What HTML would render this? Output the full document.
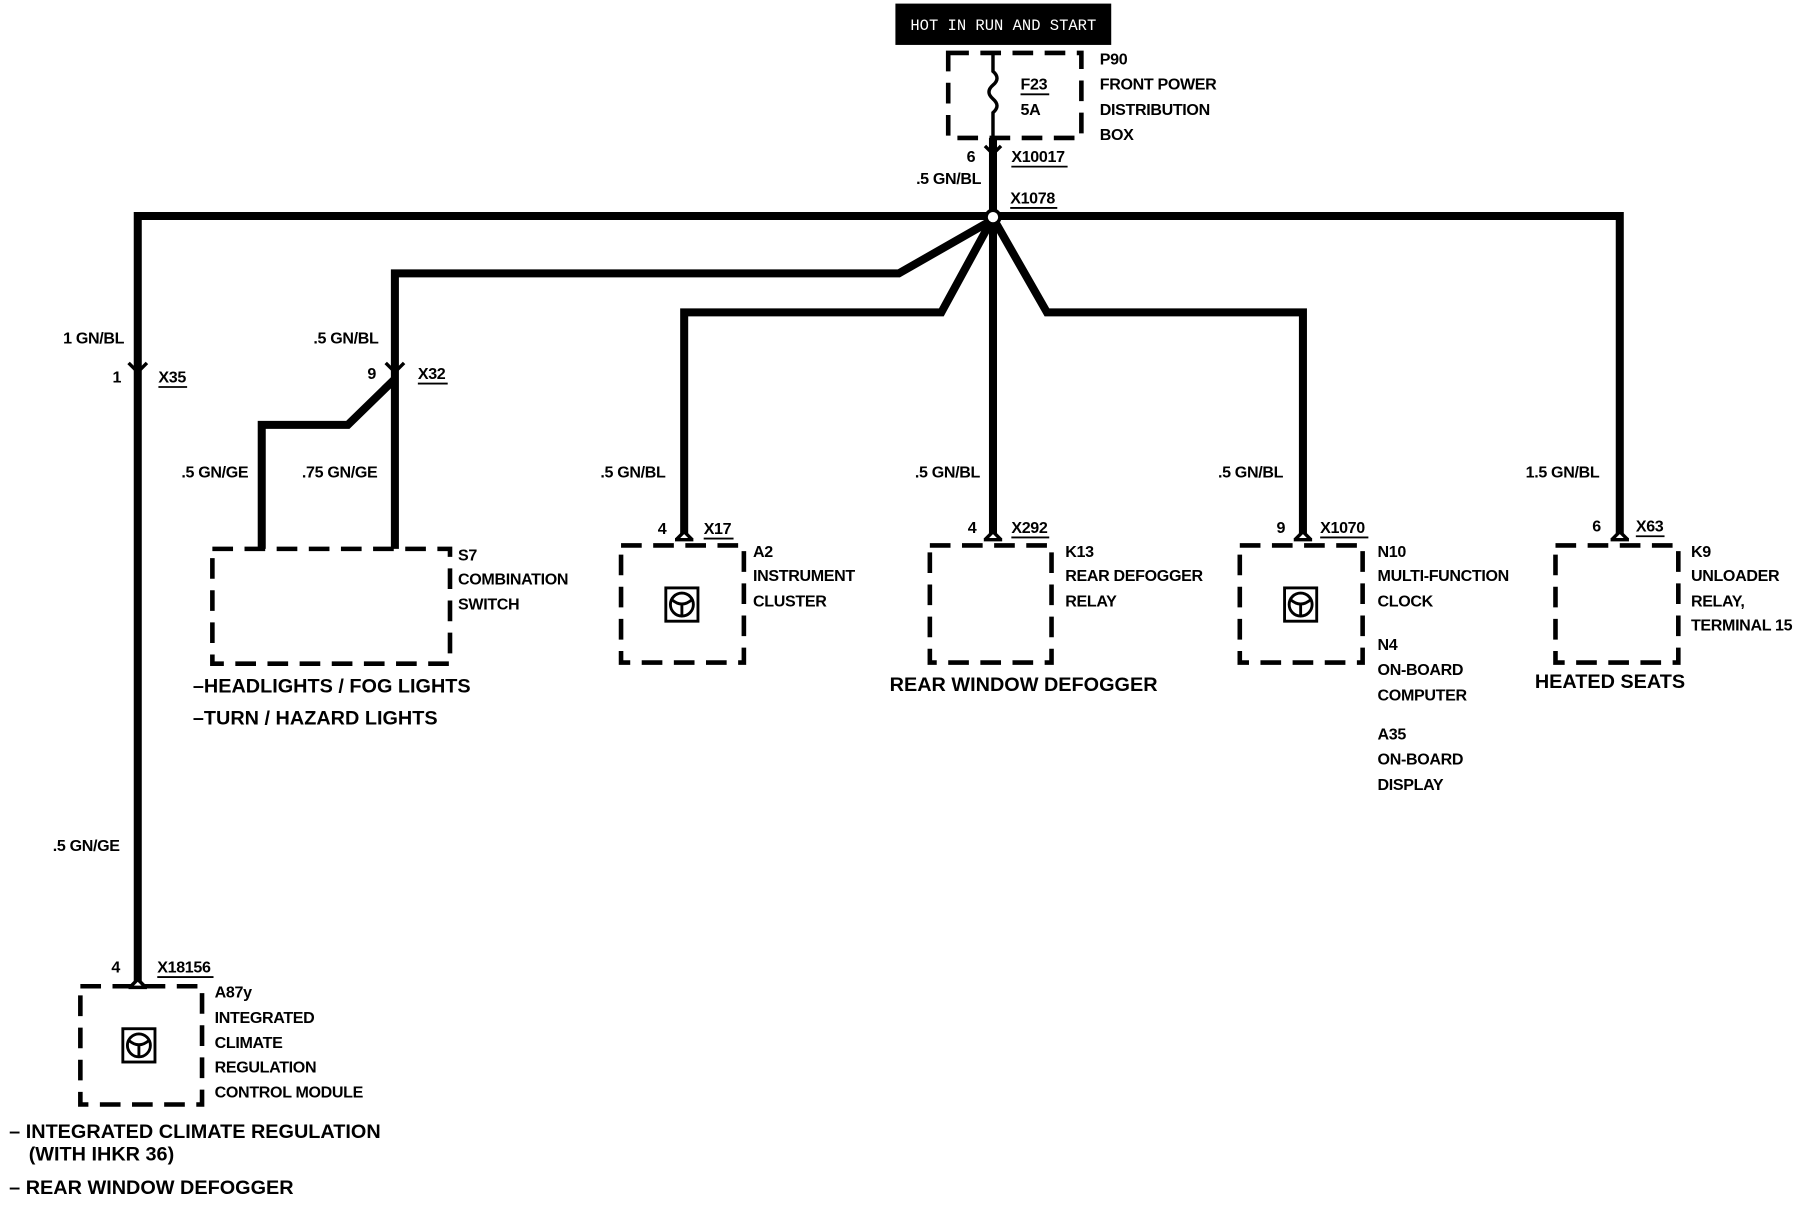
<!DOCTYPE html>
<html><head><meta charset="utf-8"><style>
html,body{margin:0;padding:0;background:#fff;}
svg{display:block;}
text{font-family:"Liberation Sans",Arial,sans-serif;font-weight:bold;font-size:14px;fill:#000;letter-spacing:-0.3px;}
.big{font-size:17.3px;letter-spacing:0;}
.w{stroke:#000;stroke-width:7;fill:none;stroke-linejoin:miter;}
.d{stroke:#000;stroke-width:4;fill:none;stroke-dasharray:18 10;}
.c{stroke:#000;stroke-width:3;fill:none;}
.u{stroke:#000;stroke-width:1.6;}
</style></head><body>
<svg width="1800" height="1216" viewBox="0 0 1568 1059" xmlns="http://www.w3.org/2000/svg">
<rect x="780" y="3" width="188" height="36" fill="#000"/>
<text x="874" y="26" text-anchor="middle" style="fill:#fff;font-family:'Liberation Mono',monospace;font-weight:normal;font-size:13.5px;letter-spacing:0">HOT  IN RUN AND START</text>
<rect x="826" y="46" width="116" height="74" class="d"/>
<path d="M865 46 V62 q7 6 0 12 q-7 6 0 12 q7 6 0 12 V120" stroke="#000" stroke-width="3" fill="none"/>
<text x="889" y="78">F23</text><line x1="889" y1="82" x2="914" y2="82" class="u"/>
<text x="889" y="100">5A</text>
<text x="958" y="56">P90</text>
<text x="958" y="78">FRONT POWER</text>
<text x="958" y="100">DISTRIBUTION</text>
<text x="958" y="122">BOX</text>
<path class="w" d="M865 120 V188"/>
<path class="c" d="M858 127 L865 134 L872 127"/>
<text x="842" y="141">6</text>
<text x="881" y="141">X10017</text><line x1="881" y1="145" x2="930" y2="145" class="u"/>
<text x="798" y="160">.5 GN/BL</text>
<text x="880" y="177">X1078</text><line x1="880" y1="181" x2="921" y2="181" class="u"/>
<path class="w" d="M120 855 V188 H1411 V465"/>
<path class="w" d="M860 194 L783 238 H344 V478"/>
<path class="w" d="M344 330 L303 370 H228 V478"/>
<path class="w" d="M862 195 L820 272 H596 V465"/>
<path class="w" d="M865 195 V465"/>
<path class="w" d="M868 195 L912 272 H1135 V465"/>
<circle cx="865" cy="189" r="6" fill="#fff" stroke="#000" stroke-width="3"/>
<path class="c" d="M112 316 L120 324 L128 316"/>
<path class="c" d="M336 316 L344 324 L352 316"/>
<text x="55" y="299">1 GN/BL</text>
<text x="98" y="333">1</text>
<text x="138" y="333">X35</text><line x1="138" y1="337" x2="163" y2="337" class="u"/>
<text x="273" y="299">.5 GN/BL</text>
<text x="320" y="330">9</text>
<text x="364" y="330">X32</text><line x1="364" y1="334" x2="390" y2="334" class="u"/>
<text x="46" y="741">.5 GN/GE</text>
<text x="158" y="416">.5 GN/GE</text>
<text x="263" y="416">.75 GN/GE</text>
<text x="523" y="416">.5 GN/BL</text>
<text x="797" y="416">.5 GN/BL</text>
<text x="1061" y="416">.5 GN/BL</text>
<text x="1329" y="416">1.5 GN/BL</text>
<g class="c">
<path d="M113 860 L120 853 L127 860 M112 860 H128"/>
<path d="M589 470 L596 463 L603 470 M588 470 H604"/>
<path d="M858 470 L865 463 L872 470 M857 470 H873"/>
<path d="M1128 470 L1135 463 L1142 470 M1127 470 H1143"/>
<path d="M1404 470 L1411 463 L1418 470 M1403 470 H1419"/>
</g>
<text x="97" y="847">4</text>
<text x="137" y="847">X18156</text><line x1="137" y1="851" x2="186" y2="851" class="u"/>
<text x="573" y="465">4</text>
<text x="613" y="465">X17</text><line x1="613" y1="469" x2="639" y2="469" class="u"/>
<text x="843" y="464">4</text>
<text x="881" y="464">X292</text><line x1="881" y1="468" x2="914" y2="468" class="u"/>
<text x="1112" y="464">9</text>
<text x="1150" y="464">X1070</text><line x1="1150" y1="468" x2="1192" y2="468" class="u"/>
<text x="1387" y="463">6</text>
<text x="1425" y="463">X63</text><line x1="1425" y1="467" x2="1450" y2="467" class="u"/>
<rect x="70" y="859" width="106" height="103" class="d"/>
<rect x="185" y="478" width="207" height="100" class="d"/>
<rect x="541" y="475" width="107" height="102" class="d"/>
<rect x="810" y="475" width="106" height="102" class="d"/>
<rect x="1080" y="475" width="107" height="102" class="d"/>
<rect x="1355" y="475" width="107" height="102" class="d"/>
<g stroke="#000" fill="none" stroke-width="2.5">
<rect x="107" y="896" width="28" height="29"/><circle cx="121" cy="910.5" r="10"/><path d="M112 906 Q121 914 130 906 M121 910 V920"/>
<rect x="580" y="512" width="28" height="29"/><circle cx="594" cy="526.5" r="10"/><path d="M585 522 Q594 530 603 522 M594 526 V536"/>
<rect x="1119" y="512" width="28" height="29"/><circle cx="1133" cy="526.5" r="10"/><path d="M1124 522 Q1133 530 1142 522 M1133 526 V536"/>
</g>
<text x="187" y="869">A87y</text>
<text x="187" y="891">INTEGRATED</text>
<text x="187" y="913">CLIMATE</text>
<text x="187" y="934">REGULATION</text>
<text x="187" y="956">CONTROL MODULE</text>
<text class="big" x="8" y="991">– INTEGRATED CLIMATE REGULATION</text>
<text class="big" x="25" y="1011">(WITH IHKR 36)</text>
<text class="big" x="8" y="1040">–  REAR WINDOW DEFOGGER</text>
<text x="399" y="488">S7</text>
<text x="399" y="509">COMBINATION</text>
<text x="399" y="531">SWITCH</text>
<text class="big" x="168" y="603">–HEADLIGHTS / FOG LIGHTS</text>
<text class="big" x="168" y="631">–TURN / HAZARD LIGHTS</text>
<text x="656" y="485">A2</text>
<text x="656" y="506">INSTRUMENT</text>
<text x="656" y="528">CLUSTER</text>
<text x="928" y="485">K13</text>
<text x="928" y="506">REAR DEFOGGER</text>
<text x="928" y="528">RELAY</text>
<text class="big" x="775" y="602">REAR WINDOW DEFOGGER</text>
<text x="1200" y="485">N10</text>
<text x="1200" y="506">MULTI-FUNCTION</text>
<text x="1200" y="528">CLOCK</text>
<text x="1200" y="566">N4</text>
<text x="1200" y="588">ON-BOARD</text>
<text x="1200" y="610">COMPUTER</text>
<text x="1200" y="644">A35</text>
<text x="1200" y="666">ON-BOARD</text>
<text x="1200" y="688">DISPLAY</text>
<text x="1473" y="485">K9</text>
<text x="1473" y="506">UNLOADER</text>
<text x="1473" y="528">RELAY,</text>
<text x="1473" y="549">TERMINAL 15</text>
<text class="big" x="1337" y="599">HEATED SEATS</text>
</svg>
</body></html>
